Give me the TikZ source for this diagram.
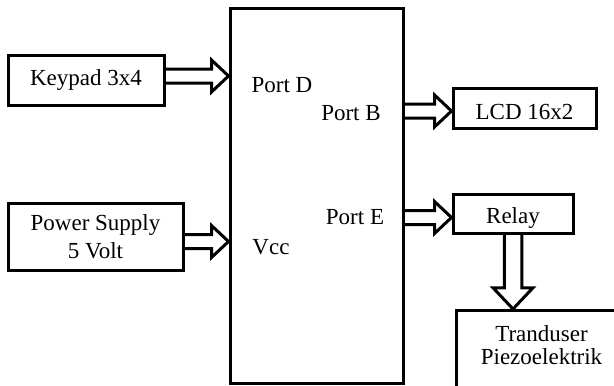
\documentclass[tikz,border=0pt]{standalone}
\usepackage{fontspec}
\setmainfont{Liberation Serif}
\usetikzlibrary{calc}

\tikzset{
  blok/.style={draw, line width=3pt, fill=white, align=center, inner sep=2pt},
  arrowline/.style={line width=3pt, line join=miter}
}

% panah tebal berongga: \fatarrow[skala]{dari}{ke}
\newcommand{\fatarrow}[3][1]{%
  \pgfmathsetmacro\fas{7*#1}%
  \pgfmathsetmacro\fah{16*#1}%
  \pgfmathsetmacro\fal{17*#1}%
  \coordinate (fa-h) at ($(#3)!\fal pt!(#2)$);
  \draw[arrowline] ($(#2)!\fas pt!90:(#3)$) -- ($(fa-h)!\fas pt!90:(#3)$)
    -- ($(fa-h)!\fah pt!90:(#3)$) -- (#3) -- ($(fa-h)!\fah pt!-90:(#3)$)
    -- ($(fa-h)!\fas pt!-90:(#3)$) -- ($(#2)!\fas pt!-90:(#3)$);
}

\begin{document}
\begin{tikzpicture}[x=1pt, y=-1pt, font=\fontsize{23}{26}\selectfont]
  \fill[white] (0,0) rectangle (614,386);
  \clip (0,0) rectangle (614,386);

  % 1. Blok mikrokontroler
  \node[blok, minimum width=173, minimum height=375] (mcu) at (316.5,195.5) {};
  \node (pd) at (282,85) {Port D};
  \node (pb) at (351,113) {Port B};
  \node (vcc) at (271,247) {Vcc};
  \node (pe) at (355,217) {Port E};

  % 2. Blok masukan dan keluaran
  \node[blok, minimum width=156, minimum height=50] (kp) at (86,80) {Keypad 3x4};
  \node[blok, minimum width=175, minimum height=67] (ps) at (95.5,236.5) {Power Supply\\[2pt]5 Volt};
  \node[blok, minimum width=143, minimum height=40, text height=23pt, text depth=0pt] (lcd) at (524.5,108) {LCD 16x2};
  \node[blok, minimum width=120, minimum height=39, text height=19pt, text depth=0pt] (rl) at (513,213.5) {Relay};
  \node[blok, anchor=north west, minimum width=170, minimum height=90, text depth=20pt] (td) at (455,309) {Tranduser\\[-3pt]Piezoelektrik};

  % Titik ujung panah
  \coordinate (kpout) at ([yshift=4pt]kp.east);
  \coordinate (kpin) at (mcu.west |- kpout);
  \coordinate (psout) at ([yshift=-5pt]ps.east);
  \coordinate (psin) at (mcu.west |- psout);
  \coordinate (lcdin) at ([yshift=-3pt]lcd.west);
  \coordinate (pbout) at (mcu.east |- lcdin);
  \coordinate (rlin) at ([yshift=-4pt]rl.west);
  \coordinate (peout) at (mcu.east |- rlin);
  \coordinate (tdin) at (rl.south |- td.north);

  % 3. Panah
  \fatarrow{kpout}{kpin}
  \fatarrow{psout}{psin}
  \fatarrow{pbout}{lcdin}
  \fatarrow{peout}{rlin}
  \fatarrow[1.25]{rl.south}{tdin}
\end{tikzpicture}
\end{document}
